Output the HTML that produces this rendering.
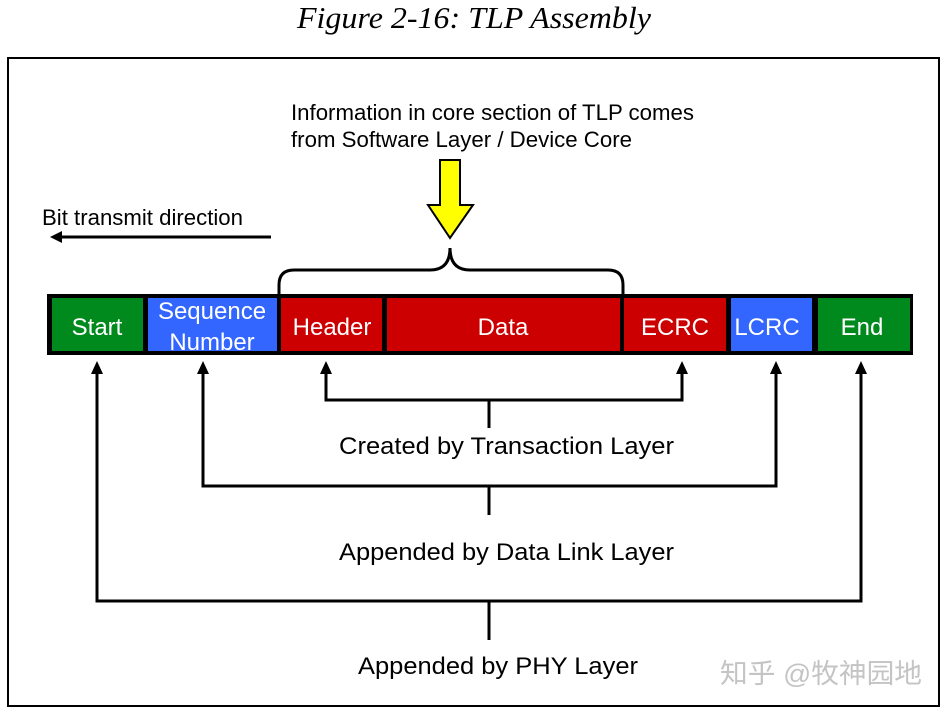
<!DOCTYPE html>
<html><head><meta charset="utf-8"><style>
html,body{margin:0;padding:0;background:#fff;width:946px;height:711px;overflow:hidden}
svg{display:block}
text{font-family:"Liberation Sans",sans-serif}
</style></head><body>
<svg width="946" height="711" viewBox="0 0 946 711" xmlns="http://www.w3.org/2000/svg">
<text x="474" y="28" text-anchor="middle" font-style="italic" font-size="31" style="font-family:'Liberation Serif',serif" textLength="354" lengthAdjust="spacingAndGlyphs">Figure 2-16: TLP Assembly</text>
<rect x="8" y="58" width="931" height="648" fill="none" stroke="#000" stroke-width="2"/>
<text x="291" y="120" font-size="22" textLength="403" lengthAdjust="spacingAndGlyphs">Information in core section of TLP comes</text>
<text x="291" y="147" font-size="22" textLength="341" lengthAdjust="spacingAndGlyphs">from Software Layer / Device Core</text>
<text x="42" y="225" font-size="22" textLength="201" lengthAdjust="spacingAndGlyphs">Bit transmit direction</text>
<line x1="60" y1="237" x2="271" y2="237" stroke="#000" stroke-width="3"/>
<polygon points="50,237 62,231 62,243" fill="#000"/>
<polygon points="440,160 460,160 460,205 473,205 450,238 428,205 440,205" fill="#ffff00" stroke="#000" stroke-width="2"/>
<path d="M279,296 L279,285 Q279,270 294,270 L430,270 Q450,270 450,248 Q450,270 470,270 L608,270 Q623,270 623,285 L623,296" fill="none" stroke="#000" stroke-width="3"/>
<rect x="47" y="294" width="866" height="61" fill="#000"/>
<rect x="52" y="298" width="91" height="53" fill="#008a1e"/>
<rect x="148" y="298" width="129" height="53" fill="#3366ff"/>
<rect x="281" y="298" width="101" height="53" fill="#cc0000"/>
<rect x="387" y="298" width="233" height="53" fill="#cc0000"/>
<rect x="624" y="298" width="102" height="53" fill="#cc0000"/>
<rect x="731" y="298" width="81" height="53" fill="#3366ff"/>
<rect x="818" y="298" width="92" height="53" fill="#008a1e"/>
<g fill="#fff" font-size="24" text-anchor="middle">
<text x="97" y="335">Start</text>
<text x="212" y="319">Sequence</text>
<text x="212" y="350">Number</text>
<text x="332" y="335">Header</text>
<text x="503" y="335">Data</text>
<text x="675" y="335">ECRC</text>
<text x="767" y="335">LCRC</text>
<text x="862" y="335">End</text>
</g>
<g stroke="#000" stroke-width="3" fill="none">
<polyline points="326,370 326,400 682,400 682,370"/>
<line x1="489" y1="400" x2="489" y2="428"/>
<polyline points="203,370 203,486 776,486 776,370"/>
<line x1="489" y1="486" x2="489" y2="515"/>
<polyline points="97,370 97,601 861,601 861,370"/>
<line x1="489" y1="601" x2="489" y2="640"/>
</g>
<g fill="#000">
<polygon points="326,361 320,374 332,374"/>
<polygon points="682,361 676,374 688,374"/>
<polygon points="203,361 197,374 209,374"/>
<polygon points="776,361 770,374 782,374"/>
<polygon points="97,361 91,374 103,374"/>
<polygon points="861,361 855,374 867,374"/>
</g>
<g font-size="24">
<text x="339" y="454" textLength="335" lengthAdjust="spacingAndGlyphs">Created by Transaction Layer</text>
<text x="339" y="560" textLength="335" lengthAdjust="spacingAndGlyphs">Appended by Data Link Layer</text>
<text x="358" y="674" textLength="280" lengthAdjust="spacingAndGlyphs">Appended by PHY Layer</text>
</g>
<text x="720" y="683" font-size="27" fill="#c4c4c4" textLength="202" lengthAdjust="spacingAndGlyphs" style="font-family:'Liberation Sans','Noto Sans CJK SC',sans-serif">知乎 @牧神园地</text>
</svg>
</body></html>
